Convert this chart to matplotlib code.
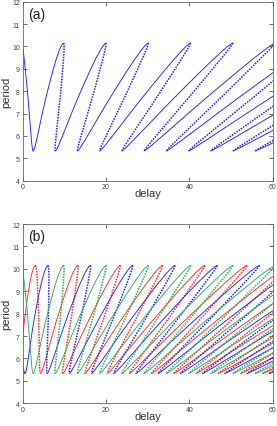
# -*- coding: utf-8 -*-
import numpy as np
import matplotlib
matplotlib.use('Agg')
import matplotlib.pyplot as plt

# one cycle of the period curve, read from the first loop of panel (a)
# s = position along one cycle (0 = lower tip, 0.5 = upper tip, 1 = next lower tip)
ciclo_s = [0.0, 0.02, 0.05, 0.08, 0.12, 0.16, 0.20, 0.25, 0.30, 0.34, 0.38,
           0.42, 0.45, 0.48, 0.50, 0.53, 0.56, 0.60, 0.64, 0.68, 0.72, 0.76,
           0.80, 0.84, 0.88, 0.92, 0.95, 0.98, 1.0]
ciclo_periodo = [5.33, 5.35, 5.45, 5.63, 5.98, 6.45, 7.00, 7.70, 8.35, 8.90,
                 9.40, 9.80, 10.01, 10.12, 10.15, 9.95, 9.55, 8.95, 8.40,
                 7.90, 7.40, 6.95, 6.55, 6.20, 5.90, 5.62, 5.47, 5.36, 5.33]

# delay/period of the lower tip of each family (read from the tips)
tip_a = [0.47]                       # panel (a): blue
tip_b = [-0.196, 0.10, 0.47]         # panel (b): red, blue, green
cores_a = ['#1f1fff']
cores_b = ['#ff2a2a', '#2323f0', '#2fa864']
n_ciclos = 12


def desenha(ax, tips, cores):
    s = np.array(ciclo_s)
    per = np.array(ciclo_periodo)
    sobe = s <= 0.5
    desce = s >= 0.5
    for t0, cor in zip(tips, cores):
        for k in range(-2, n_ciclos):
            # ramo estavel (solido)
            th = t0 + k + s[sobe]
            ax.plot(th * per[sobe], per[sobe], '-', color=cor, lw=0.65)
            # ramo instavel (pontilhado), exceto o primeiro trecho
            th = t0 + k + s[desce]
            if t0 + k + 0.5 < 0:
                ax.plot(th * per[desce], per[desce], '-', color=cor, lw=0.65)
            else:
                ax.plot(th * per[desce], per[desce], color=cor, lw=1.1,
                        linestyle=(0, (1.0, 0.8)))


def formata(ax, letra):
    ax.set_xlim(0, 60)
    ax.set_ylim(4, 12)
    ax.set_xticks([0, 20, 40, 60])
    ax.set_yticks(range(4, 13))
    ax.tick_params(direction='in', top=True, right=True, length=3,
                   width=0.6, labelsize=5, pad=2, colors='#555555',
                   labelcolor='#444444')
    for sp in ax.spines.values():
        sp.set_color('#666666')
        sp.set_linewidth(0.6)
    ax.set_xlabel('delay', fontsize=8, color='#333333', labelpad=-1.5)
    ax.set_ylabel('period', fontsize=8, color='#333333', labelpad=0.5)
    ax.text(1.3, 11.45, letra, fontsize=10, color='#222222', va='center')


def main():
    plt.rcParams['font.family'] = ['Liberation Sans', 'DejaVu Sans']
    fig = plt.figure(figsize=(2.77, 4.27), dpi=100)
    ax1 = fig.add_axes([0.082, 0.5745, 0.9025, 0.4192])
    ax2 = fig.add_axes([0.082, 0.0532, 0.9025, 0.4198])

    desenha(ax1, tip_a, cores_a)
    formata(ax1, '(a)')
    desenha(ax2, tip_b, cores_b)
    formata(ax2, '(b)')

    fig.savefig('out.png', dpi=100)


if __name__ == "__main__":
    main()
